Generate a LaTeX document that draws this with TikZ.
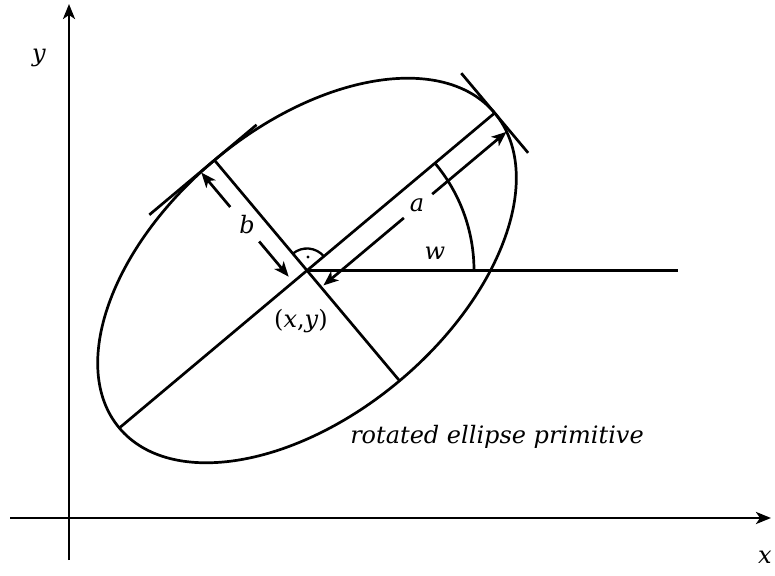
\documentclass[tikz,border=0pt]{standalone}
\usepackage{fontspec}
\setmainfont{DejaVu Serif}
\usetikzlibrary{arrows.meta,calc}
\begin{document}
\begin{tikzpicture}[x=1pt,y=1pt,
  ln/.style={line width=2.7pt},
  tip/.style={-{Stealth[length=15pt,width=12pt,inset=4pt]}},
  lbl/.style={font=\fontsize{24}{28}\selectfont\itshape, inner sep=0pt}]
\useasboundingbox (0,0) rectangle (775,575);
% axes
\coordinate (xs) at (10,57);
\coordinate (xe) at (771,57);
\coordinate (ys) at (69,15);
\coordinate (ye) at (69,571);
\draw[ln,tip] (xs) -- (xe);
\draw[ln,tip] (ys) -- (ye);
\node[lbl] (xl) at (765,18) {x};
\node[lbl] (yl) at (39,517) {y};
% centre
\coordinate (C) at (307,304.5);
\coordinate (H) at (678,304.5);
\draw[ln] (C) -- (H);
\begin{scope}[shift={(C)},rotate=40]
  \draw[ln] (0,0) ellipse[x radius=245, y radius=144];
  \coordinate (A1) at (-245,0);
  \coordinate (A2) at (245,0);
  \coordinate (B1) at (0,-144);
  \coordinate (B2) at (0,144);
  \draw[ln] (A1) -- (A2);
  \draw[ln] (B1) -- (B2);
  % tangents
  \coordinate (T1) at (245,-52);
  \coordinate (T2) at (245,52);
  \draw[ln] (T1) -- (T2);
  \coordinate (T3) at (-85,144);
  \coordinate (T4) at (55,144);
  \draw[ln] (T3) -- (T4);
  % arrow a
  \coordinate (a0) at (3,-22);
  \coordinate (a1) at (108,-22);
  \coordinate (a2) at (145,-22);
  \coordinate (a3) at (242,-22);
  \draw[ln,tip] (a1) -- (a0);
  \draw[ln,tip] (a2) -- (a3);
  \node[lbl] (la) at (126,-21) {a};
  % arrow b
  \coordinate (b0) at (-18,7);
  \coordinate (b1) at (-18,53);
  \coordinate (b2) at (-18,98);
  \coordinate (b3) at (-18,143);
  \draw[ln,tip] (b1) -- (b0);
  \draw[ln,tip] (b2) -- (b3);
  \node[lbl] (lb) at (-16,74) {b};
\end{scope}
% angle w
\draw[ln] ($(C)+(167,0)$) arc[start angle=0, end angle=40, radius=167];
\node[lbl] (lw) at (435,322) {w};
% right angle mark
\draw[line width=2.3pt] ($(C)+(40:22)$) arc[start angle=40, end angle=130, radius=22];
\fill (308,318) circle (1.7pt);
\node[lbl] (lxy) at (301,254) {\upshape(\textit{x},\textit{y})};
\node[lbl] (cap) at (497,138) {rotated ellipse primitive};
\end{tikzpicture}
\end{document}
